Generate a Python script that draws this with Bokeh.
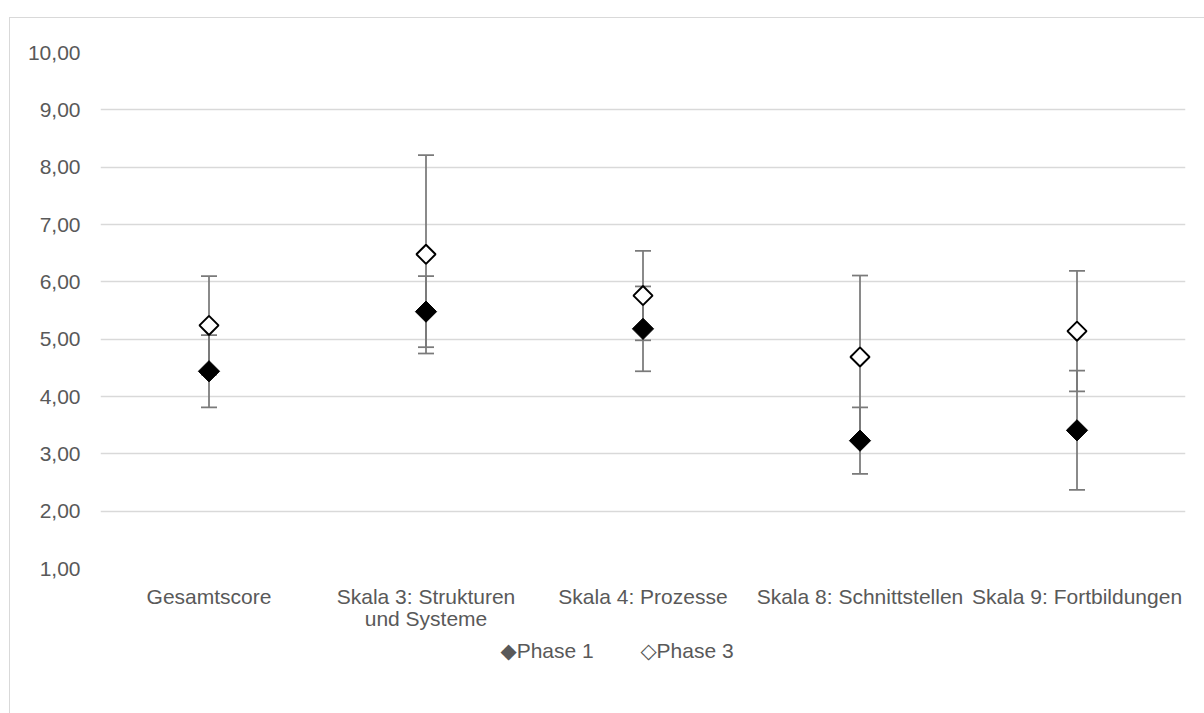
import math
from bokeh.plotting import figure
from bokeh.models import (Range1d, FixedTicker, Title, ColumnDataSource, LinearAxis)
from bokeh.embed import file_html
from bokeh.resources import INLINE

# ---- data ----
categories = ["Gesamtscore", "Skala 3: Strukturen und Systeme", "Skala 4: Prozesse",
              "Skala 8: Schnittstellen", "Skala 9: Fortbildungen"]
label_line1 = ["Gesamtscore", "Skala 3: Strukturen", "Skala 4: Prozesse",
               "Skala 8: Schnittstellen", "Skala 9: Fortbildungen"]
label_line2 = ["", "und Systeme", "", "", ""]
phase1_mean = [4.44, 5.48, 5.18, 3.23, 3.41]
phase1_err = [0.63, 0.62, 0.74, 0.58, 1.04]
phase3_mean = [5.24, 6.48, 5.76, 4.69, 5.14]
phase3_err = [0.86, 1.73, 0.78, 1.42, 1.05]
y_ticks = [1, 2, 3, 4, 5, 6, 7, 8, 9, 10]
y_tick_labels = ["1,00", "2,00", "3,00", "4,00", "5,00", "6,00", "7,00", "8,00", "9,00", "10,00"]
series_names = ["Phase 1", "Phase 3"]
series_symbols = ["\u25c6", "\u25c7"]

FONT = "Liberation Sans"
FS = "21px"
TXT = "#595959"
ERR = "#7a7a7a"

idx = list(range(len(categories)))

def src(mean, err):
    return ColumnDataSource(dict(
        x=idx, name=categories, y=mean,
        lo=[m - e for m, e in zip(mean, err)],
        hi=[m + e for m, e in zip(mean, err)],
    ))

s1 = src(phase1_mean, phase1_err)
s3 = src(phase3_mean, phase3_err)

p = figure(frame_width=1085, frame_height=516, x_range=Range1d(-0.5, len(categories) - 0.5),
           y_range=Range1d(1, 10), output_backend="svg", toolbar_location=None,
           min_border_left=90, min_border_right=19, min_border_top=34, min_border_bottom=0)
p.margin = (17, 0, 0, 9)
p.styles = {"border-left": "1px solid #d9d9d9", "border-top": "1px solid #d9d9d9",
            "padding-bottom": "60px"}
p.outline_line_color = None
p.background_fill_color = "white"
p.border_fill_color = "white"

# error bars
for s in (s1, s3):
    p.segment(x0="x", y0="lo", x1="x", y1="hi", source=s, line_color=ERR, line_width=1.75)
    p.scatter(x="x", y="hi", source=s, marker="dash", size=16, line_color=ERR, line_width=1.75)
    p.scatter(x="x", y="lo", source=s, marker="dash", size=16, line_color=ERR, line_width=1.75)

p.scatter(x="x", y="y", source=s1, marker="square", angle=math.pi / 4, size=15,
          fill_color="black", line_color="black", line_width=1)
p.scatter(x="x", y="y", source=s3, marker="square", angle=math.pi / 4, size=13.5,
          fill_color="white", line_color="black", line_width=2)

# axes
p.yaxis.ticker = FixedTicker(ticks=y_ticks)
p.yaxis.major_label_overrides = {t: l for t, l in zip(y_ticks, y_tick_labels)}
p.xaxis.ticker = FixedTicker(ticks=idx)
p.xaxis.major_label_overrides = {i: l for i, l in zip(idx, label_line1)}
ax2 = LinearAxis(ticker=FixedTicker(ticks=idx),
                 major_label_overrides={i: l for i, l in zip(idx, label_line2)})
p.add_layout(ax2, "below")
for ax in (p.xaxis[0], ax2, p.yaxis[0]):
    ax.axis_line_color = None
    ax.major_tick_line_color = None
    ax.minor_tick_line_color = None
    ax.major_label_text_font = FONT
    ax.major_label_text_font_size = FS
    ax.major_label_text_color = TXT
p.xaxis[0].major_label_standoff = 10
ax2.major_label_standoff = -10
p.yaxis[0].major_label_standoff = 14

p.xgrid.grid_line_color = None
p.ygrid.grid_line_color = "#d9d9d9"
p.ygrid.grid_line_width = 1.5

# legend line (symbol + series name)
gap = "\u00a0" * 8
legend_text = gap.join(sym + name for sym, name in zip(series_symbols, series_names))
leg = Title(text=legend_text, align="left", offset=400, standoff=8,
            text_font="Liberation Sans, DejaVu Sans", text_font_size=FS,
            text_font_style="normal", text_color=TXT)
p.add_layout(leg, "below")

open("out.html", "w").write(file_html(p, INLINE))
